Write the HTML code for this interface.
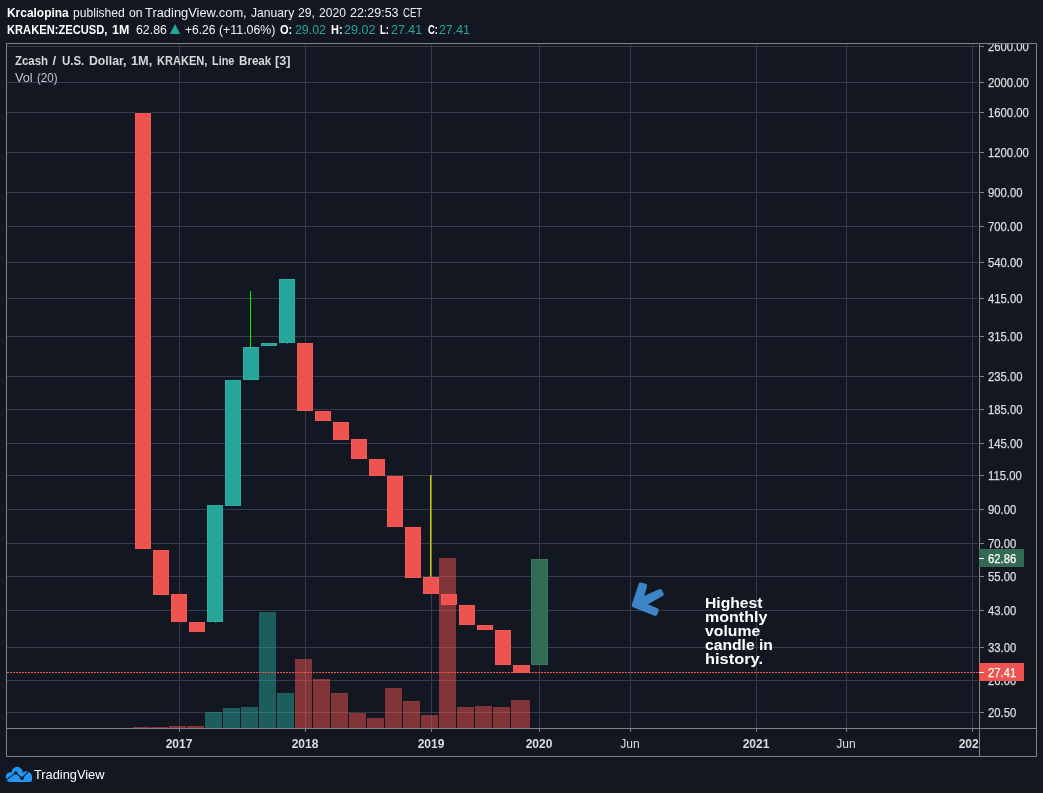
<!DOCTYPE html>
<html><head><meta charset="utf-8"><title>ZECUSD</title>
<style>
html,body{margin:0;padding:0;background:#131722;}
body{width:1043px;height:793px;position:relative;overflow:hidden;font-family:"Liberation Sans",sans-serif;}
.t{position:absolute;white-space:pre;line-height:20px;transform-origin:0 0;}
#w{position:absolute;left:0;top:0;width:1043px;height:793px;will-change:transform;}
.r{position:absolute;}
</style></head><body><div id="w">
<span class="t" style="left:6.70px;top:2.80px;font-size:13px;color:#fff;font-weight:bold;transform:scaleX(0.9186);">Krcalopina</span>
<span class="t" style="left:72.80px;top:2.80px;font-size:13px;color:#f0f0f0;transform:scaleX(0.9308);">published</span>
<span class="t" style="left:128.50px;top:2.80px;font-size:13px;color:#f0f0f0;transform:scaleX(0.9408);">on</span>
<span class="t" style="left:145.30px;top:2.80px;font-size:13px;color:#f0f0f0;transform:scaleX(0.9911);">TradingView.com,</span>
<span class="t" style="left:250.50px;top:2.80px;font-size:13px;color:#f0f0f0;transform:scaleX(0.9340);">January</span>
<span class="t" style="left:297.50px;top:2.80px;font-size:13px;color:#f0f0f0;transform:scaleX(0.9353);">29,</span>
<span class="t" style="left:318.60px;top:2.80px;font-size:13px;color:#f0f0f0;transform:scaleX(0.9300);">2020</span>
<span class="t" style="left:349.70px;top:2.80px;font-size:13px;color:#f0f0f0;transform:scaleX(0.9583);">22:29:53</span>
<span class="t" style="left:402.60px;top:2.80px;font-size:13px;color:#f0f0f0;transform:scaleX(0.7385);">CET</span>
<span class="t" style="left:6.70px;top:19.70px;font-size:13px;color:#fff;font-weight:bold;transform:scaleX(0.8573);">KRAKEN:ZECUSD,</span>
<span class="t" style="left:112.00px;top:19.70px;font-size:13px;color:#fff;font-weight:bold;transform:scaleX(0.9581);">1M</span>
<span class="t" style="left:135.70px;top:19.70px;font-size:13px;color:#f0f0f0;transform:scaleX(0.9500);">62.86</span>
<span class="t" style="left:184.80px;top:19.70px;font-size:13px;color:#f0f0f0;transform:scaleX(0.9273);">+6.26</span>
<span class="t" style="left:219.30px;top:19.70px;font-size:13px;color:#f0f0f0;transform:scaleX(0.9500);">(+11.06%)</span>
<span class="t" style="left:280.30px;top:19.70px;font-size:13px;color:#fff;font-weight:bold;transform:scaleX(0.8516);">O:</span>
<span class="t" style="left:294.70px;top:19.70px;font-size:13px;color:#26a69a;transform:scaleX(0.9500);">29.02</span>
<span class="t" style="left:330.70px;top:19.70px;font-size:13px;color:#fff;font-weight:bold;transform:scaleX(0.8458);">H:</span>
<span class="t" style="left:344.40px;top:19.70px;font-size:13px;color:#26a69a;transform:scaleX(0.9654);">29.02</span>
<span class="t" style="left:380.40px;top:19.70px;font-size:13px;color:#fff;font-weight:bold;transform:scaleX(0.7252);">L:</span>
<span class="t" style="left:391.10px;top:19.70px;font-size:13px;color:#26a69a;transform:scaleX(0.9592);">27.41</span>
<span class="t" style="left:427.70px;top:19.70px;font-size:13px;color:#fff;font-weight:bold;transform:scaleX(0.7218);">C:</span>
<span class="t" style="left:438.90px;top:19.70px;font-size:13px;color:#26a69a;transform:scaleX(0.9500);">27.41</span>
<svg class="r" style="left:169px;top:23px" width="12" height="12" viewBox="0 0 12 12"><path d="M0.8 11 L6.1 0.9 L11.1 11 Z" fill="#26a69a"/></svg>
<div class="r" style="left:6px;top:43px;width:1031px;height:1px;background:#828282;"></div>
<div class="r" style="left:6px;top:756px;width:1031px;height:1px;background:#828282;"></div>
<div class="r" style="left:6px;top:43px;width:1px;height:714px;background:#828282;"></div>
<div class="r" style="left:1036px;top:43px;width:1px;height:714px;background:#828282;"></div>
<div class="r" style="left:7px;top:46px;width:971px;height:1px;background:#363a4e;"></div>
<div class="r" style="left:7px;top:82px;width:971px;height:1px;background:#363a4e;"></div>
<div class="r" style="left:7px;top:112px;width:971px;height:1px;background:#363a4e;"></div>
<div class="r" style="left:7px;top:152px;width:971px;height:1px;background:#363a4e;"></div>
<div class="r" style="left:7px;top:192px;width:971px;height:1px;background:#363a4e;"></div>
<div class="r" style="left:7px;top:226px;width:971px;height:1px;background:#363a4e;"></div>
<div class="r" style="left:7px;top:262px;width:971px;height:1px;background:#363a4e;"></div>
<div class="r" style="left:7px;top:298px;width:971px;height:1px;background:#363a4e;"></div>
<div class="r" style="left:7px;top:336px;width:971px;height:1px;background:#363a4e;"></div>
<div class="r" style="left:7px;top:376px;width:971px;height:1px;background:#363a4e;"></div>
<div class="r" style="left:7px;top:409px;width:971px;height:1px;background:#363a4e;"></div>
<div class="r" style="left:7px;top:443px;width:971px;height:1px;background:#363a4e;"></div>
<div class="r" style="left:7px;top:475px;width:971px;height:1px;background:#363a4e;"></div>
<div class="r" style="left:7px;top:509px;width:971px;height:1px;background:#363a4e;"></div>
<div class="r" style="left:7px;top:543px;width:971px;height:1px;background:#363a4e;"></div>
<div class="r" style="left:7px;top:576px;width:971px;height:1px;background:#363a4e;"></div>
<div class="r" style="left:7px;top:610px;width:971px;height:1px;background:#363a4e;"></div>
<div class="r" style="left:7px;top:647px;width:971px;height:1px;background:#363a4e;"></div>
<div class="r" style="left:7px;top:680px;width:971px;height:1px;background:#363a4e;"></div>
<div class="r" style="left:7px;top:712px;width:971px;height:1px;background:#363a4e;"></div>
<div class="r" style="left:179px;top:44px;width:1px;height:684px;background:#363a4e;"></div>
<div class="r" style="left:305px;top:44px;width:1px;height:684px;background:#363a4e;"></div>
<div class="r" style="left:431px;top:44px;width:1px;height:684px;background:#363a4e;"></div>
<div class="r" style="left:539px;top:44px;width:1px;height:684px;background:#363a4e;"></div>
<div class="r" style="left:630px;top:44px;width:1px;height:684px;background:#363a4e;"></div>
<div class="r" style="left:756px;top:44px;width:1px;height:684px;background:#363a4e;"></div>
<div class="r" style="left:846px;top:44px;width:1px;height:684px;background:#363a4e;"></div>
<div class="r" style="left:972px;top:44px;width:1px;height:684px;background:#363a4e;"></div>
<div class="r" style="left:133px;top:727px;width:17px;height:1px;background:rgba(239,83,80,0.5);"></div>
<div class="r" style="left:151px;top:727px;width:17px;height:1px;background:rgba(239,83,80,0.5);"></div>
<div class="r" style="left:169px;top:726px;width:17px;height:2px;background:rgba(239,83,80,0.5);"></div>
<div class="r" style="left:187px;top:726px;width:17px;height:2px;background:rgba(239,83,80,0.5);"></div>
<div class="r" style="left:205px;top:712px;width:17px;height:16px;background:rgba(38,166,154,0.5);"></div>
<div class="r" style="left:223px;top:708px;width:17px;height:20px;background:rgba(38,166,154,0.5);"></div>
<div class="r" style="left:241px;top:707px;width:17px;height:21px;background:rgba(38,166,154,0.5);"></div>
<div class="r" style="left:259px;top:612px;width:17px;height:116px;background:rgba(38,166,154,0.5);"></div>
<div class="r" style="left:277px;top:693px;width:17px;height:35px;background:rgba(38,166,154,0.5);"></div>
<div class="r" style="left:295px;top:659px;width:17px;height:69px;background:rgba(239,83,80,0.5);"></div>
<div class="r" style="left:313px;top:679px;width:17px;height:49px;background:rgba(239,83,80,0.5);"></div>
<div class="r" style="left:331px;top:693px;width:17px;height:35px;background:rgba(239,83,80,0.5);"></div>
<div class="r" style="left:349px;top:713px;width:17px;height:15px;background:rgba(239,83,80,0.5);"></div>
<div class="r" style="left:367px;top:718px;width:17px;height:10px;background:rgba(239,83,80,0.5);"></div>
<div class="r" style="left:385px;top:688px;width:17px;height:40px;background:rgba(239,83,80,0.5);"></div>
<div class="r" style="left:403px;top:701px;width:17px;height:27px;background:rgba(239,83,80,0.5);"></div>
<div class="r" style="left:421px;top:715px;width:17px;height:13px;background:rgba(239,83,80,0.5);"></div>
<div class="r" style="left:439px;top:558px;width:17px;height:170px;background:rgba(239,83,80,0.5);"></div>
<div class="r" style="left:457px;top:707px;width:17px;height:21px;background:rgba(239,83,80,0.5);"></div>
<div class="r" style="left:475px;top:706px;width:17px;height:22px;background:rgba(239,83,80,0.5);"></div>
<div class="r" style="left:493px;top:707px;width:17px;height:21px;background:rgba(239,83,80,0.5);"></div>
<div class="r" style="left:511px;top:700px;width:19px;height:28px;background:rgba(239,83,80,0.5);"></div>
<div class="r" style="left:135px;top:112px;width:16.4px;height:1px;background:#172230;"></div>
<div class="r" style="left:215px;top:622px;width:1px;height:1px;background:rgba(38,166,154,0.7);"></div>
<div class="r" style="left:287px;top:343px;width:1px;height:1px;background:rgba(38,166,154,0.7);"></div>
<div class="r" style="left:250px;top:291px;width:1px;height:56px;background:#00f000;"></div>
<div class="r" style="left:430px;top:475px;width:1px;height:103px;background:#c8c80a;"></div>
<div class="r" style="left:431px;top:475px;width:1px;height:103px;background:rgba(200,200,10,0.45);"></div>
<div class="r" style="left:135.0px;top:113px;width:16.4px;height:436px;background:#ef5350;box-shadow:inset 0 0 0 1px rgba(255,96,90,0.4);"></div>
<div class="r" style="left:153.0px;top:550px;width:16.4px;height:45px;background:#ef5350;box-shadow:inset 0 0 0 1px rgba(255,96,90,0.4);"></div>
<div class="r" style="left:171.01px;top:594px;width:16.4px;height:28px;background:#ef5350;box-shadow:inset 0 0 0 1px rgba(255,96,90,0.4);"></div>
<div class="r" style="left:189.01px;top:622px;width:16.4px;height:10px;background:#ef5350;box-shadow:inset 0 0 0 1px rgba(255,96,90,0.4);"></div>
<div class="r" style="left:207.02px;top:505px;width:16.4px;height:117px;background:#26a69a;box-shadow:inset 0 0 0 1px rgba(48,190,175,0.4);"></div>
<div class="r" style="left:225.02px;top:380px;width:16.4px;height:126px;background:#26a69a;box-shadow:inset 0 0 0 1px rgba(48,190,175,0.4);"></div>
<div class="r" style="left:243.03px;top:347px;width:16.4px;height:33px;background:#26a69a;box-shadow:inset 0 0 0 1px rgba(48,190,175,0.4);"></div>
<div class="r" style="left:261.03px;top:343px;width:16.4px;height:3px;background:#26a69a;box-shadow:inset 0 0 0 1px rgba(48,190,175,0.4);"></div>
<div class="r" style="left:279.04px;top:279px;width:16.4px;height:64px;background:#26a69a;box-shadow:inset 0 0 0 1px rgba(48,190,175,0.4);"></div>
<div class="r" style="left:297.04px;top:343px;width:16.4px;height:68px;background:#ef5350;box-shadow:inset 0 0 0 1px rgba(255,96,90,0.4);"></div>
<div class="r" style="left:315.05px;top:411px;width:16.4px;height:10px;background:#ef5350;box-shadow:inset 0 0 0 1px rgba(255,96,90,0.4);"></div>
<div class="r" style="left:333.05px;top:422px;width:16.4px;height:18px;background:#ef5350;box-shadow:inset 0 0 0 1px rgba(255,96,90,0.4);"></div>
<div class="r" style="left:351.06px;top:439px;width:16.4px;height:20px;background:#ef5350;box-shadow:inset 0 0 0 1px rgba(255,96,90,0.4);"></div>
<div class="r" style="left:369.06px;top:459px;width:16.4px;height:17px;background:#ef5350;box-shadow:inset 0 0 0 1px rgba(255,96,90,0.4);"></div>
<div class="r" style="left:387.07px;top:476px;width:16.4px;height:51px;background:#ef5350;box-shadow:inset 0 0 0 1px rgba(255,96,90,0.4);"></div>
<div class="r" style="left:405.07px;top:527px;width:16.4px;height:51px;background:#ef5350;box-shadow:inset 0 0 0 1px rgba(255,96,90,0.4);"></div>
<div class="r" style="left:423.08px;top:577px;width:16.4px;height:17px;background:#ef5350;box-shadow:inset 0 0 0 1px rgba(255,96,90,0.4);"></div>
<div class="r" style="left:441.08px;top:594px;width:16.4px;height:11px;background:#ef5350;box-shadow:inset 0 0 0 1px rgba(255,96,90,0.4);"></div>
<div class="r" style="left:459.09px;top:605px;width:16.4px;height:20px;background:#ef5350;box-shadow:inset 0 0 0 1px rgba(255,96,90,0.4);"></div>
<div class="r" style="left:477.09px;top:625px;width:16.4px;height:5px;background:#ef5350;box-shadow:inset 0 0 0 1px rgba(255,96,90,0.4);"></div>
<div class="r" style="left:495.1px;top:630px;width:16.4px;height:35px;background:#ef5350;box-shadow:inset 0 0 0 1px rgba(255,96,90,0.4);"></div>
<div class="r" style="left:513.11px;top:665px;width:16.4px;height:8px;background:#ef5350;box-shadow:inset 0 0 0 1px rgba(255,96,90,0.4);"></div>
<div class="r" style="left:531.1px;top:559px;width:16.5px;height:106px;background:#336a54;box-shadow:inset 0 0 0 1px #397459;"></div>
<div class="r" style="left:7px;top:672px;width:972px;height:1px;background:repeating-linear-gradient(90deg,#ef5350 0,#ef5350 2px,transparent 2px,transparent 3px);background-position:0px 0"></div>
<svg class="r" style="left:620px;top:575px" width="60" height="50" viewBox="620 575 60 50"><path d="M633.9 605.1 L655.3 613.7 L656.5 610.2 L643.0 604.6 L661.6 594.1 L660.0 591.2 L640.8 599.7 L645.0 585.8 L640.8 584.5 Z" fill="#3d85c6" stroke="#3d85c6" stroke-width="4.4" stroke-linejoin="round"/></svg>
<span class="t" style="left:705.30px;top:593.15px;font-size:14px;color:#fff;font-weight:bold;transform:scaleX(1.1200);">Highest</span>
<span class="t" style="left:705.30px;top:607.15px;font-size:14px;color:#fff;font-weight:bold;transform:scaleX(1.1443);">monthly</span>
<span class="t" style="left:705.30px;top:621.15px;font-size:14px;color:#fff;font-weight:bold;transform:scaleX(1.1262);">volume</span>
<span class="t" style="left:705.30px;top:635.15px;font-size:14px;color:#fff;font-weight:bold;transform:scaleX(1.1191);">candle in</span>
<span class="t" style="left:705.30px;top:649.15px;font-size:14px;color:#fff;font-weight:bold;transform:scaleX(1.1730);">history.</span>
<div class="r" style="left:7px;top:728px;width:1029px;height:1px;background:#828282;"></div>
<div class="r" style="left:179px;top:729px;width:1px;height:3px;background:#828282;"></div>
<div class="r" style="left:305px;top:729px;width:1px;height:3px;background:#828282;"></div>
<div class="r" style="left:431px;top:729px;width:1px;height:3px;background:#828282;"></div>
<div class="r" style="left:539px;top:729px;width:1px;height:3px;background:#828282;"></div>
<div class="r" style="left:630px;top:729px;width:1px;height:3px;background:#828282;"></div>
<div class="r" style="left:756px;top:729px;width:1px;height:3px;background:#828282;"></div>
<div class="r" style="left:846px;top:729px;width:1px;height:3px;background:#828282;"></div>
<div class="r" style="left:972px;top:729px;width:1px;height:3px;background:#828282;"></div>
<div class="r" style="left:7px;top:729px;width:972px;height:27px;overflow:hidden">
<span class="t" style="left:158.65px;top:5.04px;font-size:12px;color:#dcdcdc;font-weight:bold;">2017</span>
<span class="t" style="left:284.65px;top:5.04px;font-size:12px;color:#dcdcdc;font-weight:bold;">2018</span>
<span class="t" style="left:410.65px;top:5.04px;font-size:12px;color:#dcdcdc;font-weight:bold;">2019</span>
<span class="t" style="left:518.65px;top:5.04px;font-size:12px;color:#dcdcdc;font-weight:bold;">2020</span>
<span class="t" style="left:613.33px;top:5.04px;font-size:12px;color:#dcdcdc;">Jun</span>
<span class="t" style="left:735.65px;top:5.04px;font-size:12px;color:#dcdcdc;font-weight:bold;">2021</span>
<span class="t" style="left:829.33px;top:5.04px;font-size:12px;color:#dcdcdc;">Jun</span>
<span class="t" style="left:951.65px;top:5.04px;font-size:12px;color:#dcdcdc;font-weight:bold;">2022</span>
</div>
<div class="r" style="left:979px;top:44px;width:1px;height:712px;background:#828282;"></div>
<div class="r" style="left:980px;top:44px;width:56px;height:684px;overflow:hidden">
<div class="r" style="left:0px;top:2px;width:4px;height:1px;background:#828282;"></div>
<span class="t" style="left:8.00px;top:-6.63px;font-size:12.5px;color:#dcdcdc;transform:scaleX(0.905);-webkit-text-stroke:0.25px currentColor;">2600.00</span>
<div class="r" style="left:0px;top:38px;width:4px;height:1px;background:#828282;"></div>
<span class="t" style="left:8.00px;top:29.37px;font-size:12.5px;color:#dcdcdc;transform:scaleX(0.905);-webkit-text-stroke:0.25px currentColor;">2000.00</span>
<div class="r" style="left:0px;top:68px;width:4px;height:1px;background:#828282;"></div>
<span class="t" style="left:8.00px;top:59.37px;font-size:12.5px;color:#dcdcdc;transform:scaleX(0.905);-webkit-text-stroke:0.25px currentColor;">1600.00</span>
<div class="r" style="left:0px;top:108px;width:4px;height:1px;background:#828282;"></div>
<span class="t" style="left:8.00px;top:99.37px;font-size:12.5px;color:#dcdcdc;transform:scaleX(0.905);-webkit-text-stroke:0.25px currentColor;">1200.00</span>
<div class="r" style="left:0px;top:148px;width:4px;height:1px;background:#828282;"></div>
<span class="t" style="left:8.00px;top:139.37px;font-size:12.5px;color:#dcdcdc;transform:scaleX(0.905);-webkit-text-stroke:0.25px currentColor;">900.00</span>
<div class="r" style="left:0px;top:182px;width:4px;height:1px;background:#828282;"></div>
<span class="t" style="left:8.00px;top:173.37px;font-size:12.5px;color:#dcdcdc;transform:scaleX(0.905);-webkit-text-stroke:0.25px currentColor;">700.00</span>
<div class="r" style="left:0px;top:218px;width:4px;height:1px;background:#828282;"></div>
<span class="t" style="left:8.00px;top:209.37px;font-size:12.5px;color:#dcdcdc;transform:scaleX(0.905);-webkit-text-stroke:0.25px currentColor;">540.00</span>
<div class="r" style="left:0px;top:254px;width:4px;height:1px;background:#828282;"></div>
<span class="t" style="left:8.00px;top:245.37px;font-size:12.5px;color:#dcdcdc;transform:scaleX(0.905);-webkit-text-stroke:0.25px currentColor;">415.00</span>
<div class="r" style="left:0px;top:292px;width:4px;height:1px;background:#828282;"></div>
<span class="t" style="left:8.00px;top:283.37px;font-size:12.5px;color:#dcdcdc;transform:scaleX(0.905);-webkit-text-stroke:0.25px currentColor;">315.00</span>
<div class="r" style="left:0px;top:332px;width:4px;height:1px;background:#828282;"></div>
<span class="t" style="left:8.00px;top:323.37px;font-size:12.5px;color:#dcdcdc;transform:scaleX(0.905);-webkit-text-stroke:0.25px currentColor;">235.00</span>
<div class="r" style="left:0px;top:365px;width:4px;height:1px;background:#828282;"></div>
<span class="t" style="left:8.00px;top:356.37px;font-size:12.5px;color:#dcdcdc;transform:scaleX(0.905);-webkit-text-stroke:0.25px currentColor;">185.00</span>
<div class="r" style="left:0px;top:399px;width:4px;height:1px;background:#828282;"></div>
<span class="t" style="left:8.00px;top:390.37px;font-size:12.5px;color:#dcdcdc;transform:scaleX(0.905);-webkit-text-stroke:0.25px currentColor;">145.00</span>
<div class="r" style="left:0px;top:431px;width:4px;height:1px;background:#828282;"></div>
<span class="t" style="left:8.00px;top:422.37px;font-size:12.5px;color:#dcdcdc;transform:scaleX(0.905);-webkit-text-stroke:0.25px currentColor;">115.00</span>
<div class="r" style="left:0px;top:465px;width:4px;height:1px;background:#828282;"></div>
<span class="t" style="left:8.00px;top:456.37px;font-size:12.5px;color:#dcdcdc;transform:scaleX(0.905);-webkit-text-stroke:0.25px currentColor;">90.00</span>
<div class="r" style="left:0px;top:499px;width:4px;height:1px;background:#828282;"></div>
<span class="t" style="left:8.00px;top:490.37px;font-size:12.5px;color:#dcdcdc;transform:scaleX(0.905);-webkit-text-stroke:0.25px currentColor;">70.00</span>
<div class="r" style="left:0px;top:532px;width:4px;height:1px;background:#828282;"></div>
<span class="t" style="left:8.00px;top:523.37px;font-size:12.5px;color:#dcdcdc;transform:scaleX(0.905);-webkit-text-stroke:0.25px currentColor;">55.00</span>
<div class="r" style="left:0px;top:566px;width:4px;height:1px;background:#828282;"></div>
<span class="t" style="left:8.00px;top:557.37px;font-size:12.5px;color:#dcdcdc;transform:scaleX(0.905);-webkit-text-stroke:0.25px currentColor;">43.00</span>
<div class="r" style="left:0px;top:603px;width:4px;height:1px;background:#828282;"></div>
<span class="t" style="left:8.00px;top:594.37px;font-size:12.5px;color:#dcdcdc;transform:scaleX(0.905);-webkit-text-stroke:0.25px currentColor;">33.00</span>
<div class="r" style="left:0px;top:636px;width:4px;height:1px;background:#828282;"></div>
<span class="t" style="left:8.00px;top:627.37px;font-size:12.5px;color:#dcdcdc;transform:scaleX(0.905);-webkit-text-stroke:0.25px currentColor;">26.00</span>
<div class="r" style="left:0px;top:668px;width:4px;height:1px;background:#828282;"></div>
<span class="t" style="left:8.00px;top:659.37px;font-size:12.5px;color:#dcdcdc;transform:scaleX(0.905);-webkit-text-stroke:0.25px currentColor;">20.50</span>
</div>
<div class="r" style="left:979px;top:549px;width:45px;height:18px;background:#336a54;"></div>
<div class="r" style="left:979px;top:558px;width:5px;height:1px;background:#fff;"></div>
<span class="t" style="left:988.20px;top:549.37px;font-size:12.5px;color:#fff;transform:scaleX(0.905);-webkit-text-stroke:0.25px currentColor;">62.86</span>
<div class="r" style="left:979px;top:663px;width:45px;height:18px;background:#ef5350;"></div>
<div class="r" style="left:979px;top:672px;width:5px;height:1px;background:#fff;"></div>
<span class="t" style="left:988.20px;top:663.37px;font-size:12.5px;color:#fff;transform:scaleX(0.905);-webkit-text-stroke:0.25px currentColor;">27.41</span>
<span class="t" style="left:15.00px;top:50.50px;font-size:13px;color:#d8d8d8;font-weight:bold;transform:scaleX(0.8810);">Zcash</span>
<span class="t" style="left:52.40px;top:50.50px;font-size:13px;color:#d8d8d8;font-weight:bold;">/</span>
<span class="t" style="left:61.80px;top:50.50px;font-size:13px;color:#d8d8d8;font-weight:bold;transform:scaleX(0.8819);">U.S.</span>
<span class="t" style="left:88.70px;top:50.50px;font-size:13px;color:#d8d8d8;font-weight:bold;transform:scaleX(0.9436);">Dollar,</span>
<span class="t" style="left:130.50px;top:50.50px;font-size:13px;color:#d8d8d8;font-weight:bold;transform:scaleX(0.9783);">1M,</span>
<span class="t" style="left:156.80px;top:50.50px;font-size:13px;color:#d8d8d8;font-weight:bold;transform:scaleX(0.8493);">KRAKEN,</span>
<span class="t" style="left:211.80px;top:50.50px;font-size:13px;color:#d8d8d8;font-weight:bold;transform:scaleX(0.8343);">Line</span>
<span class="t" style="left:238.50px;top:50.50px;font-size:13px;color:#d8d8d8;font-weight:bold;transform:scaleX(0.8931);">Break</span>
<span class="t" style="left:275.40px;top:50.50px;font-size:13px;color:#d8d8d8;font-weight:bold;transform:scaleX(0.9757);">[3]</span>
<span class="t" style="left:15.00px;top:68.10px;font-size:13px;color:#c4c4c8;transform:scaleX(0.9795);">Vol</span>
<span class="t" style="left:36.90px;top:68.10px;font-size:13px;color:#c4c4c8;transform:scaleX(0.8912);">(20)</span>
<svg class="r" style="left:2px;top:762px" width="36" height="25" viewBox="0 0 1043 724"><g fill="#2196f3"><circle cx="440" cy="300" r="160"/><circle cx="245" cy="430" r="135"/><circle cx="722" cy="428" r="148"/><path d="M560 330 L700 262 L780 300 L700 400 Z"/><rect x="150" y="400" width="720" height="180" rx="60"/><rect x="300" y="300" width="400" height="200"/></g><path d="M130 512 L400 315 L580 470 L752 285" fill="none" stroke="#131722" stroke-width="32"/><circle cx="400" cy="315" r="50" fill="#131722"/><circle cx="580" cy="470" r="50" fill="#131722"/></svg>
<span class="t" style="left:33.90px;top:764.50px;font-size:13px;color:#fff;transform:scaleX(0.9849);">TradingView</span>
</div></body></html>
